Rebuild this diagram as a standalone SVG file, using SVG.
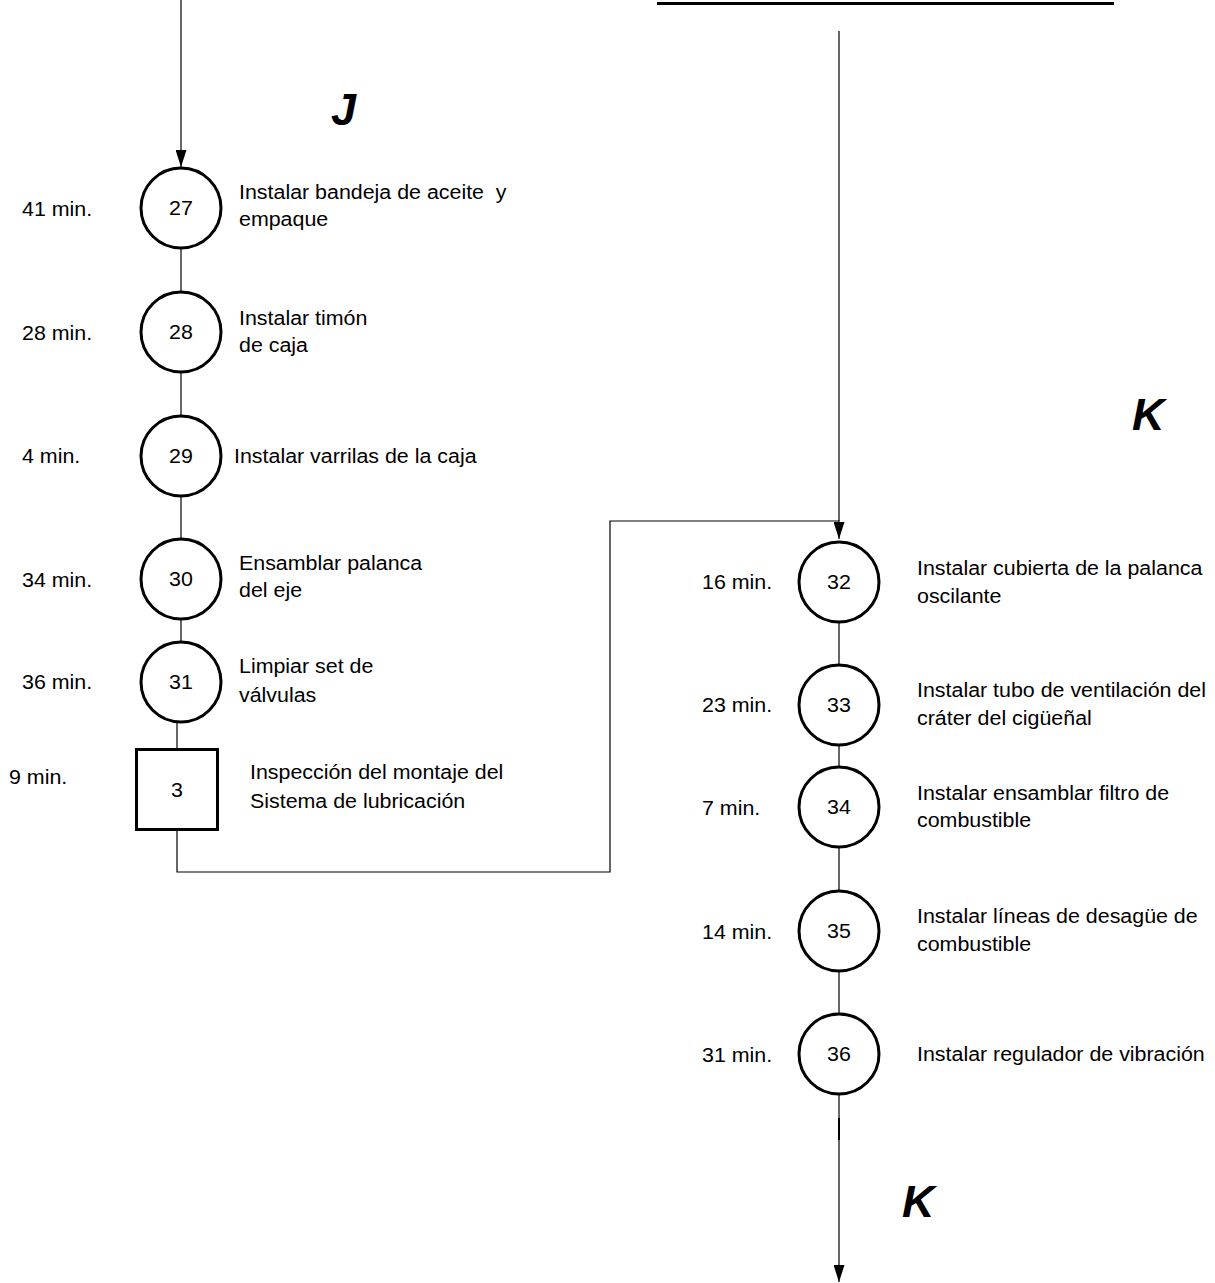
<svg xmlns="http://www.w3.org/2000/svg" width="1215" height="1283" viewBox="0 0 1215 1283">
  <style>
    .bg { fill: #ffffff; }
    .op { fill: #ffffff; stroke: #000000; stroke-width: 3; }
    .ln { fill: none; stroke: #000000; stroke-width: 1.2; }
    .t { font-family: "Liberation Sans", Arial, sans-serif; font-size: 20px; fill: #000000; white-space: pre; }
    .c { text-anchor: middle; }
    .big { font-family: "Liberation Sans", Arial, sans-serif; font-size: 45px; font-weight: bold; font-style: italic; fill: #000000; }
  </style>
  <defs>
    <marker id="arrow" viewBox="0 0 17 11" refX="17" refY="5.5" markerWidth="17" markerHeight="11" markerUnits="userSpaceOnUse" orient="auto">
      <path d="M0,0 L17,5.5 L0,11 Z" fill="#000000"/>
    </marker>
  </defs>

  <rect class="bg" x="0" y="0" width="1215" height="1283"/>

  <!-- heading rule at the top edge -->
  <line x1="657" y1="3.5" x2="1114" y2="3.5" stroke="#000000" stroke-width="3"/>

  <!-- connectors -->
  <g id="connectors">
    <line class="ln" x1="181" y1="0" x2="181" y2="167" marker-end="url(#arrow)"/>
    <line class="ln" x1="181" y1="249" x2="181" y2="291"/>
    <line class="ln" x1="181" y1="373" x2="181" y2="415"/>
    <line class="ln" x1="181" y1="497" x2="181" y2="538"/>
    <line class="ln" x1="181" y1="620" x2="181" y2="641"/>
    <line class="ln" x1="177" y1="722" x2="177" y2="749"/>
    <path class="ln" d="M177,830 V872 H610 V521 H839 V539" marker-end="url(#arrow)"/>
    <line class="ln" x1="839" y1="31" x2="839" y2="521"/>
    <line class="ln" x1="839" y1="623" x2="839" y2="664"/>
    <line class="ln" x1="839" y1="746" x2="839" y2="766"/>
    <line class="ln" x1="839" y1="848" x2="839" y2="890"/>
    <line class="ln" x1="839" y1="972" x2="839" y2="1013"/>
    <line class="ln" x1="839" y1="1095" x2="839" y2="1282" marker-end="url(#arrow)"/>
    <line x1="839" y1="1118" x2="839" y2="1140" stroke="#000000" stroke-width="2"/>
  </g>

  <!-- section letters -->
  <text class="big" x="331" y="125">J</text>
  <text class="big" x="1132" y="430">K</text>
  <text class="big" x="902" y="1217">K</text>

  <!-- left column -->
  <g id="op27">
    <circle class="op" cx="181" cy="208" r="40"/>
    <text class="t c" transform="matrix(1.07 0 0 1 181 215)">27</text>
    <text class="t" transform="matrix(1.07 0 0 1 22 216)">41 min.</text>
    <text class="t" transform="matrix(1.07 0 0 1 239 199)">Instalar bandeja de aceite  y</text>
    <text class="t" transform="matrix(1.07 0 0 1 239 226)">empaque</text>
  </g>
  <g id="op28">
    <circle class="op" cx="181" cy="332" r="40"/>
    <text class="t c" transform="matrix(1.07 0 0 1 181 339)">28</text>
    <text class="t" transform="matrix(1.07 0 0 1 22 340)">28 min.</text>
    <text class="t" transform="matrix(1.07 0 0 1 239 325)">Instalar timón</text>
    <text class="t" transform="matrix(1.07 0 0 1 239 352)">de caja</text>
  </g>
  <g id="op29">
    <circle class="op" cx="181" cy="456" r="40"/>
    <text class="t c" transform="matrix(1.07 0 0 1 181 463)">29</text>
    <text class="t" transform="matrix(1.07 0 0 1 22 463)">4 min.</text>
    <text class="t" transform="matrix(1.07 0 0 1 234 463)">Instalar varrilas de la caja</text>
  </g>
  <g id="op30">
    <circle class="op" cx="181" cy="579" r="40"/>
    <text class="t c" transform="matrix(1.07 0 0 1 181 586)">30</text>
    <text class="t" transform="matrix(1.07 0 0 1 22 587)">34 min.</text>
    <text class="t" transform="matrix(1.07 0 0 1 239 570)">Ensamblar palanca</text>
    <text class="t" transform="matrix(1.07 0 0 1 239 597)">del eje</text>
  </g>
  <g id="op31">
    <circle class="op" cx="181" cy="682" r="40"/>
    <text class="t c" transform="matrix(1.07 0 0 1 181 689)">31</text>
    <text class="t" transform="matrix(1.07 0 0 1 22 689)">36 min.</text>
    <text class="t" transform="matrix(1.07 0 0 1 239 673)">Limpiar set de</text>
    <text class="t" transform="matrix(1.07 0 0 1 239 702)">válvulas</text>
  </g>
  <g id="insp3">
    <rect class="op" x="136.5" y="749.5" width="81" height="80"/>
    <text class="t c" transform="matrix(1.07 0 0 1 177 797)">3</text>
    <text class="t" transform="matrix(1.07 0 0 1 9 784)">9 min.</text>
    <text class="t" transform="matrix(1.07 0 0 1 250 779)">Inspección del montaje del</text>
    <text class="t" transform="matrix(1.07 0 0 1 250 808)">Sistema de lubricación</text>
  </g>

  <!-- right column -->
  <g id="op32">
    <circle class="op" cx="839" cy="582" r="40"/>
    <text class="t c" transform="matrix(1.07 0 0 1 839 589)">32</text>
    <text class="t" transform="matrix(1.07 0 0 1 702 589)">16 min.</text>
    <text class="t" transform="matrix(1.07 0 0 1 917 575)">Instalar cubierta de la palanca</text>
    <text class="t" transform="matrix(1.07 0 0 1 917 603)">oscilante</text>
  </g>
  <g id="op33">
    <circle class="op" cx="839" cy="705" r="40"/>
    <text class="t c" transform="matrix(1.07 0 0 1 839 712)">33</text>
    <text class="t" transform="matrix(1.07 0 0 1 702 712)">23 min.</text>
    <text class="t" transform="matrix(1.07 0 0 1 917 697)">Instalar tubo de ventilación del</text>
    <text class="t" transform="matrix(1.07 0 0 1 917 725)">cráter del cigüeñal</text>
  </g>
  <g id="op34">
    <circle class="op" cx="839" cy="807" r="40"/>
    <text class="t c" transform="matrix(1.07 0 0 1 839 814)">34</text>
    <text class="t" transform="matrix(1.07 0 0 1 702 815)">7 min.</text>
    <text class="t" transform="matrix(1.07 0 0 1 917 800)">Instalar ensamblar filtro de</text>
    <text class="t" transform="matrix(1.07 0 0 1 917 827)">combustible</text>
  </g>
  <g id="op35">
    <circle class="op" cx="839" cy="931" r="40"/>
    <text class="t c" transform="matrix(1.07 0 0 1 839 938)">35</text>
    <text class="t" transform="matrix(1.07 0 0 1 702 939)">14 min.</text>
    <text class="t" transform="matrix(1.07 0 0 1 917 923)">Instalar líneas de desagüe de</text>
    <text class="t" transform="matrix(1.07 0 0 1 917 951)">combustible</text>
  </g>
  <g id="op36">
    <circle class="op" cx="839" cy="1054" r="40"/>
    <text class="t c" transform="matrix(1.07 0 0 1 839 1061)">36</text>
    <text class="t" transform="matrix(1.07 0 0 1 702 1062)">31 min.</text>
    <text class="t" transform="matrix(1.07 0 0 1 917 1061)">Instalar regulador de vibración</text>
  </g>
</svg>
